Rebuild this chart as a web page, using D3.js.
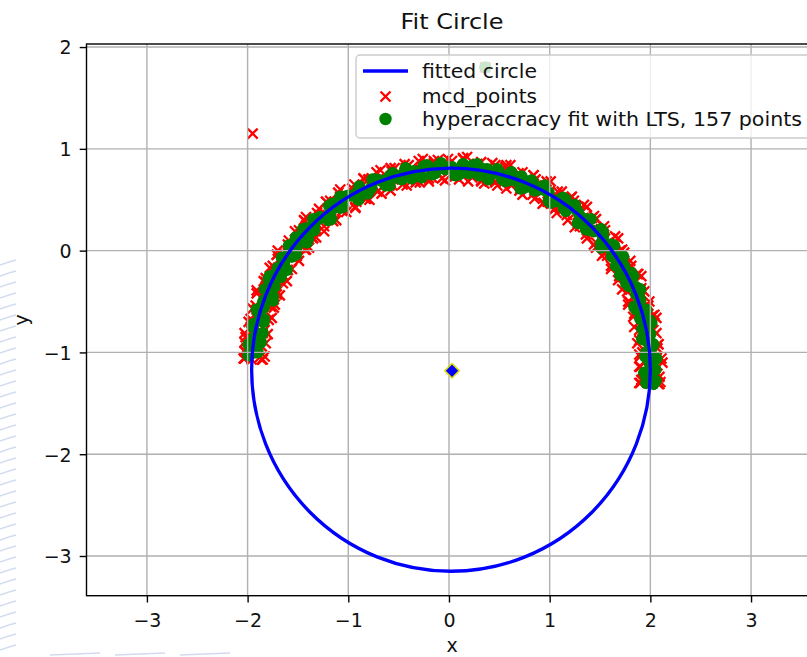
<!DOCTYPE html>
<head>
    <meta charset="utf-8">
    <script src="https://d3js.org/d3.v7.min.js"></script>
    <style>
        *{
            margin:0;
            padding:0;
        }
        body{
            background: #fff;
            font-family: 'DejaVu Sans', sans-serif;
        }
        text{
            fill: #111;
        }
    </style>
</head>

<body>
<svg id="chart"></svg>

<script>

    //data
    let mcdPoints = [
        [2.08,-1.31],[1.92,-1.27],[2.02,-1.20],[1.90,-1.14],[2.06,-1.06],[1.96,-1.00],[2.08,-0.92],[1.92,-0.87],
        [2.00,-0.79],[1.94,-0.73],[2.02,-0.64],[1.84,-0.62],[1.91,-0.52],[1.78,-0.50],[1.90,-0.38],[1.79,-0.35],
        [1.87,-0.23],[1.70,-0.24],[1.75,-0.13],[1.67,-0.10],[1.72,0.01],[1.54,-0.03],[1.58,0.08],[1.44,0.06],
        [1.51,0.21],[1.40,0.20],[1.44,0.34],[1.28,0.27],[1.30,0.39],[1.21,0.40],[1.21,0.52],[1.06,0.42],
        [1.05,0.54],[0.94,0.47],[0.95,0.64],[0.85,0.59],[0.84,0.74],[0.71,0.61],[0.68,0.73],[0.60,0.70],
        [0.56,0.82],[0.46,0.67],[0.41,0.78],[0.32,0.68],[0.28,0.85],[0.20,0.76],[0.14,0.90],[0.06,0.74],
        [-0.01,0.84],[-0.07,0.79],[-0.15,0.88],[-0.20,0.71],[-0.28,0.80],[-0.33,0.67],[-0.43,0.81],[-0.47,0.70],
        [-0.58,0.81],[-0.59,0.64],[-0.69,0.71],[-0.74,0.63],[-0.84,0.70],[-0.83,0.51],[-0.93,0.57],[-0.93,0.43],
        [-1.08,0.53],[-1.08,0.42],[-1.22,0.48],[-1.17,0.31],[-1.29,0.35],[-1.31,0.26],[-1.43,0.29],[-1.35,0.12],
        [-1.47,0.14],[-1.42,0.01],[-1.59,0.05],[-1.56,-0.06],[-1.71,-0.04],[-1.61,-0.19],[-1.73,-0.20],[-1.72,-0.28],
        [-1.84,-0.30],[-1.71,-0.43],[-1.83,-0.46],[-1.74,-0.56],[-1.91,-0.58],[-1.84,-0.67],[-1.99,-0.70],[-1.85,-0.81],
        [-1.96,-0.86],[-1.92,-0.93],[-2.02,-0.99],[-1.86,-1.07],[-1.96,-1.07],
        [2.10,-1.29],[1.90,-1.30],[2.04,-1.26],[1.89,-1.02],[-2.04,-1.06],[-1.88,-1.05],[-2.03,-0.90],
        [1.89,-1.30],[2.09,-1.24],[1.93,-1.17],[2.12,-1.10],[1.90,-1.04],[2.07,-0.96],[1.87,-0.91],[2.06,-0.81],
        [1.89,-0.78],[2.06,-0.66],[1.83,-0.65],[1.98,-0.54],[1.78,-0.53],[1.94,-0.40],[1.77,-0.40],[1.91,-0.25],
        [1.68,-0.29],[1.81,-0.15],[1.61,-0.18],[1.74,-0.02],[1.57,-0.05],[1.68,0.12],[1.46,0.03],[1.55,0.20],
        [1.37,0.12],[1.46,0.31],[1.30,0.24],[1.37,0.43],[1.18,0.30],[1.24,0.49],[1.07,0.37],[1.12,0.58],
        [0.98,0.48],[1.01,0.68],[0.85,0.51],[0.86,0.70],[0.73,0.55],[0.73,0.77],[0.62,0.64],[0.61,0.84],
        [0.48,0.64],[0.46,0.84],[0.35,0.66],[0.32,0.87],[0.23,0.72],[0.18,0.92],[0.10,0.70],[0.03,0.88],
        [-0.04,0.69],[-0.11,0.89],[-0.17,0.72],[-0.26,0.90],[-0.29,0.67],[-0.40,0.84],[-0.42,0.64],[-0.54,0.81],
        [-0.56,0.64],[-0.68,0.79],[-0.67,0.56],[-0.80,0.70],[-0.79,0.50],[-0.94,0.65],[-0.92,0.48],[-1.08,0.60],
        [-1.02,0.38],[-1.18,0.49],[-1.12,0.30],[-1.29,0.41],[-1.24,0.24],[-1.42,0.33],[-1.32,0.13],[-1.49,0.20],
        [-1.39,0.03],[-1.59,0.10],[-1.51,-0.05],[-1.70,0.00],[-1.56,-0.18],[-1.75,-0.15],[-1.61,-0.30],[-1.82,-0.27],
        [-1.71,-0.40],[-1.91,-0.39],[-1.73,-0.53],[-1.92,-0.54],[-1.76,-0.66],[-1.97,-0.67],[-1.83,-0.78],[-2.03,-0.81],
        [-1.82,-0.91],[-2.01,-0.96],[-1.83,-1.04],[-2.03,-1.06],
        [2.09,-1.31],[1.91,-1.27],[2.07,-1.21],[1.89,-1.14],[2.11,-1.06],[1.92,-1.00],[2.08,-0.92],[1.89,-0.88],
        [2.03,-0.78],[1.84,-0.75],[2.04,-0.63],[1.85,-0.61],[1.99,-0.50],[1.79,-0.50],[1.91,-0.37],[1.72,-0.38],
        [1.88,-0.23],[1.69,-0.25],[1.80,-0.10],[1.61,-0.15],[1.70,0.00],[1.52,-0.05],[1.65,0.14],[1.46,0.08],
        [1.54,0.24],[1.36,0.16],[1.42,0.32],[1.25,0.23],[1.34,0.45],[1.17,0.35],[1.22,0.53],[1.05,0.41],
        [1.08,0.58],[0.93,0.46],[0.97,0.68],[0.83,0.55],[0.84,0.74],[0.70,0.59],[0.69,0.76],[0.57,0.61],
        [0.57,0.84],[0.46,0.68],[0.43,0.86],[0.32,0.69],[0.28,0.85],[0.19,0.68],[0.14,0.91],[0.06,0.73],
        [-0.01,0.90],[-0.07,0.71],[-0.15,0.86],[-0.20,0.68],[-0.30,0.88],[-0.33,0.70],[-0.44,0.85],[-0.46,0.65],
        [-0.57,0.78],[-0.58,0.59],[-0.72,0.77],[-0.71,0.58],[-0.85,0.71],[-0.82,0.51],[-0.96,0.61],[-0.93,0.42],
        [-1.10,0.57],[-1.06,0.39],[-1.22,0.48],[-1.15,0.29],[-1.31,0.37],[-1.24,0.19],[-1.44,0.30],[-1.36,0.13],
        [-1.53,0.19],[-1.43,0.01],[-1.60,0.06],[-1.49,-0.10],[-1.71,-0.04],[-1.60,-0.19],[-1.78,-0.17],[-1.65,-0.32],
        [-1.82,-0.31],[-1.68,-0.44],[-1.91,-0.42],[-1.77,-0.55],[-1.95,-0.57],[-1.79,-0.68],[-1.96,-0.71],[-1.80,-0.82],
        [-2.02,-0.85],[-1.86,-0.94],[-2.03,-0.99],[-1.85,-1.07],
        [-1.95,1.15],[0.36,1.80]
    ];

    let ltsPoints = [
        [2.03,-1.31],[1.96,-1.24],[2.05,-1.17],[1.99,-1.10],[1.95,-1.04],[2.01,-0.96],[1.98,-0.90],[2.00,-0.82],
        [1.92,-0.77],[1.99,-0.68],[1.91,-0.63],[1.86,-0.58],[1.90,-0.49],[1.86,-0.43],[1.86,-0.36],[1.76,-0.32],
        [1.81,-0.22],[1.73,-0.19],[1.66,-0.15],[1.68,-0.06],[1.62,-0.01],[1.61,0.06],[1.51,0.07],[1.53,0.18],
        [1.44,0.19],[1.36,0.21],[1.36,0.31],[1.30,0.34],[1.26,0.41],[1.16,0.39],[1.16,0.50],[1.07,0.49],
        [0.99,0.49],[0.96,0.59],[0.89,0.60],[0.84,0.66],[0.75,0.62],[0.72,0.73],[0.64,0.69],[0.56,0.68],
        [0.51,0.76],[0.44,0.76],[0.38,0.80],[0.30,0.74],[0.24,0.84],[0.17,0.79],[0.10,0.75],[0.03,0.82],
        [-0.04,0.80],[-0.11,0.83],[-0.17,0.75],[-0.25,0.83],[-0.31,0.76],[-0.37,0.71],[-0.45,0.76],[-0.51,0.72],
        [-0.59,0.73],[-0.63,0.64],[-0.73,0.70],[-0.77,0.62],[-0.81,0.56],[-0.90,0.59],[-0.96,0.54],[-1.03,0.53],
        [-1.05,0.43],[-1.16,0.46],[-1.18,0.37],[-1.20,0.30],[-1.30,0.31],[-1.34,0.25],[-1.41,0.22],[-1.40,0.12],
        [-1.52,0.13],[-1.51,0.04],[-1.52,-0.04],[-1.62,-0.06],[-1.64,-0.13],[-1.70,-0.17],[-1.67,-0.26],[-1.79,-0.28],
        [-1.76,-0.37],[-1.75,-0.45],[-1.84,-0.49],[-1.84,-0.56],[-1.89,-0.62],[-1.84,-0.70],[-1.95,-0.75],[-1.90,-0.83],
        [-1.87,-0.90],[-1.95,-0.96],[-1.94,-1.00],[-1.99,-1.02],
        [2.05,-1.28],[1.98,-1.19],
        [1.96,-1.30],[2.05,-1.28],[1.94,-1.20],[2.02,-1.13],[2.06,-1.06],[1.96,-1.00],[2.03,-0.92],[1.92,-0.87],
        [1.98,-0.79],[2.01,-0.71],[1.90,-0.67],[1.96,-0.58],[1.84,-0.55],[1.89,-0.46],[1.90,-0.38],[1.79,-0.35],
        [1.83,-0.25],[1.70,-0.24],[1.74,-0.15],[1.73,-0.06],[1.62,-0.06],[1.64,0.05],[1.51,0.03],[1.53,0.14],
        [1.51,0.21],[1.40,0.20],[1.41,0.31],[1.28,0.27],[1.28,0.38],[1.25,0.45],[1.14,0.42],[1.13,0.52],
        [1.01,0.47],[0.99,0.57],[0.95,0.64],[0.85,0.59],[0.82,0.69],[0.71,0.61],[0.68,0.71],[0.62,0.77],
        [0.53,0.70],[0.48,0.80],[0.39,0.70],[0.34,0.80],[0.28,0.85],[0.20,0.76],[0.14,0.85],[0.06,0.74],
        [-0.01,0.82],[-0.08,0.86],[-0.14,0.76],[-0.22,0.84],[-0.27,0.72],[-0.35,0.78],[-0.43,0.81],[-0.47,0.70],
        [-0.56,0.76],[-0.59,0.64],[-0.68,0.69],[-0.76,0.70],[-0.79,0.59],[-0.89,0.63],[-0.90,0.50],[-1.00,0.54],
        [-1.08,0.53],[-1.08,0.42],[-1.19,0.44],[-1.17,0.31],[-1.28,0.33],[-1.35,0.31],[-1.34,0.20],[-1.45,0.21],
        [-1.41,0.08],[-1.52,0.08],[-1.59,0.05],[-1.56,-0.06],[-1.66,-0.07],[-1.61,-0.19],[-1.71,-0.21],[-1.78,-0.25],
        [-1.73,-0.35],[-1.83,-0.38],[-1.75,-0.49],[-1.85,-0.52],[-1.91,-0.58],[-1.84,-0.67],[-1.94,-0.72],[-1.85,-0.81],
        [-1.94,-0.86],[-1.99,-0.92],[-1.90,-1.00],[-1.99,-1.03],
        [0.36,1.80]
    ];

    let fitCenter = [0.02, -1.17];
    let fitRadius = 1.98;
    let centerMarker = [0.03, -1.18];

    let xTicks = [-3, -2, -1, 0, 1, 2, 3];
    let yTicks = [-3, -2, -1, 0, 1, 2];
    let legendLabels = ["fitted circle", "mcd_points", "hyperaccracy fit with LTS, 157 points"];


    //svg
    let width = 807, height = 657;
    let svg = d3.select("#chart")
        .attr("width", width)
        .attr("height", height)
        .style("display", "block");

    svg.append("rect").attr("width", width).attr("height", height).attr("fill", "#fff");


    //faint marks from the page behind the figure
    let deco = svg.append("g").attr("fill", "none").attr("stroke", "#d2dbf0").attr("stroke-width", 1.4);
    d3.range(262, 656, 11).forEach(v =>
        deco.append("path").attr("d", `M0,${v + 3} Q8,${v} 16,${v - 2}`));
    [[50, 100], [115, 165], [180, 230]].forEach(s =>
        deco.append("path").attr("d", `M${s[0]},655 L${s[1]},653`));


    //plot box
    let pLeft = 86.5, pRight = 817.5, pTop = 44, pBottom = 595.7;

    let x = d3.scaleLinear().domain([-3.6, 3.66]).range([pLeft, pRight]);
    let y = d3.scaleLinear().domain([-3.39, 2.03]).range([pBottom, pTop]);

    let fmt = d => d < 0 ? "\u2212" + Math.abs(d) : "" + d;

    svg.append("clipPath").attr("id", "plot")
        .append("rect").attr("x", pLeft).attr("y", pTop)
        .attr("width", pRight - pLeft).attr("height", pBottom - pTop);

    let plot = svg.append("g").attr("clip-path", "url(#plot)");


    //mcd points (red x)
    let xm = 5;
    plot.append("g")
        .selectAll("path")
        .data(mcdPoints)
        .enter()
        .append("path")
        .attr("transform", d => `translate(${x(d[0])},${y(d[1])})`)
        .attr("d", `M${-xm},${-xm}L${xm},${xm}M${-xm},${xm}L${xm},${-xm}`)
        .attr("stroke", "#ff0000")
        .attr("stroke-width", 2.3);


    //lts points (green)
    plot.append("g")
        .selectAll("circle")
        .data(ltsPoints)
        .enter()
        .append("circle")
        .attr("cx", d => x(d[0]))
        .attr("cy", d => y(d[1]))
        .attr("r", 6.2)
        .attr("fill", "#008000");


    //grid
    let grid = svg.append("g").attr("stroke", "#b0b0b0").attr("stroke-width", 1.4);
    grid.selectAll("line.vx")
        .data(xTicks)
        .enter()
        .append("line")
        .attr("x1", d => x(d)).attr("x2", d => x(d))
        .attr("y1", pTop).attr("y2", pBottom);
    grid.selectAll("line.hy")
        .data(yTicks)
        .enter()
        .append("line")
        .attr("y1", d => y(d)).attr("y2", d => y(d))
        .attr("x1", pLeft).attr("x2", pRight);


    //fitted circle
    svg.append("g").attr("clip-path", "url(#plot)")
        .append("ellipse")
        .attr("cx", x(fitCenter[0]))
        .attr("cy", y(fitCenter[1]))
        .attr("rx", x(fitRadius) - x(0))
        .attr("ry", y(0) - y(fitRadius))
        .attr("fill", "none")
        .attr("stroke", "#0000ff")
        .attr("stroke-width", 3.3);


    //center marker
    let dm = 7.2;
    svg.append("path")
        .attr("transform", `translate(${x(centerMarker[0])},${y(centerMarker[1])})`)
        .attr("d", `M0,${-dm}L${dm},0L0,${dm}L${-dm},0Z`)
        .attr("fill", "#0000ff")
        .attr("stroke", "#e0dc00")
        .attr("stroke-width", 1.6);


    //axes
    let xAxis = svg.append("g")
        .attr("transform", `translate(0,${pBottom})`)
        .call(d3.axisBottom(x).tickValues(xTicks).tickFormat(fmt).tickSize(6.8).tickPadding(8));
    xAxis.select(".domain").remove();
    xAxis.selectAll("line").attr("stroke", "#000").attr("stroke-width", 1.4);
    xAxis.selectAll("text")
        .attr("y", 31.3).attr("dy", 0)
        .style("font-size", "19px").style("font-family", "'DejaVu Sans'").attr("fill", "#111");

    let yAxis = svg.append("g")
        .attr("transform", `translate(${pLeft},0)`)
        .call(d3.axisLeft(y).tickValues(yTicks).tickFormat(fmt).tickSize(6.8).tickPadding(8));
    yAxis.select(".domain").remove();
    yAxis.selectAll("line").attr("stroke", "#000").attr("stroke-width", 1.4);
    yAxis.selectAll("text")
        .attr("dy", "0.36em")
        .style("font-size", "19px").style("font-family", "'DejaVu Sans'").attr("fill", "#111");


    //spines
    svg.append("rect")
        .attr("x", pLeft).attr("y", pTop)
        .attr("width", pRight - pLeft).attr("height", pBottom - pTop)
        .attr("fill", "none")
        .attr("stroke", "#000")
        .attr("stroke-width", 1.4);


    //title and labels
    svg.append("text")
        .attr("x", (pLeft + pRight) / 2).attr("y", 29)
        .attr("text-anchor", "middle")
        .attr("textLength", 103)
        .attr("lengthAdjust", "spacingAndGlyphs")
        .style("font-size", "22px")
        .text("Fit Circle");

    svg.append("text")
        .attr("x", (pLeft + pRight) / 2).attr("y", 652)
        .attr("text-anchor", "middle")
        .style("font-size", "19px")
        .text("x");

    svg.append("text")
        .attr("transform", `translate(27.5,${(pTop + pBottom) / 2}) rotate(-90)`)
        .attr("text-anchor", "middle")
        .style("font-size", "19px")
        .text("y");


    //legend
    let legend = svg.append("g").attr("transform", "translate(356,55)");
    legend.append("rect")
        .attr("width", 480).attr("height", 83)
        .attr("rx", 4).attr("ry", 4)
        .attr("fill", "#fff").attr("fill-opacity", 0.8)
        .attr("stroke", "#cccccc").attr("stroke-width", 1.4);

    let rowY = [16, 41.5, 64];
    let labelWidths = [115, 115, 380];

    legend.append("line")
        .attr("x1", 7).attr("x2", 52)
        .attr("y1", rowY[0]).attr("y2", rowY[0])
        .attr("stroke", "#0000ff").attr("stroke-width", 3.3);

    legend.append("path")
        .attr("transform", `translate(29.5,${rowY[1]})`)
        .attr("d", `M${-xm},${-xm}L${xm},${xm}M${-xm},${xm}L${xm},${-xm}`)
        .attr("stroke", "#ff0000").attr("stroke-width", 2.3);

    legend.append("circle")
        .attr("cx", 29.5).attr("cy", rowY[2]).attr("r", 6.2)
        .attr("fill", "#008000");

    legend.selectAll("text")
        .data(legendLabels)
        .enter()
        .append("text")
        .attr("x", 66)
        .attr("y", (d, i) => rowY[i] + 6.8)
        .attr("textLength", (d, i) => labelWidths[i])
        .attr("lengthAdjust", "spacingAndGlyphs")
        .style("font-size", "19px")
        .text(d => d);

</script>
</body>
